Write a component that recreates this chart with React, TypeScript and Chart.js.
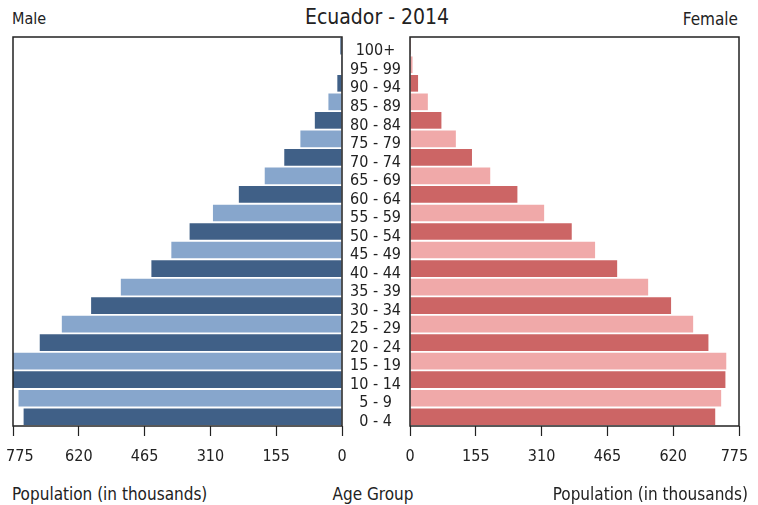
import React, { useEffect, useRef } from "react";
import { Chart, registerables } from "chart.js";

Chart.register(...registerables);

const TITLE = "Ecuador - 2014";
const AGE_GROUPS = [
  "0 - 4", "5 - 9", "10 - 14", "15 - 19", "20 - 24", "25 - 29", "30 - 34",
  "35 - 39", "40 - 44", "45 - 49", "50 - 54", "55 - 59", "60 - 64", "65 - 69",
  "70 - 74", "75 - 79", "80 - 84", "85 - 89", "90 - 94", "95 - 99", "100+",
];
const MALE = [750, 762, 777, 777, 712, 660, 591, 521, 449, 402, 359, 304, 243, 182, 136, 98, 64, 32, 11, 2, 4];
const FEMALE = [719, 733, 743, 745, 703, 667, 615, 561, 488, 436, 381, 316, 253, 189, 146, 108, 74, 42, 19, 6, 2];
const X_TICKS = [0, 155, 310, 465, 620, 775];
const X_MAX = 775;

const FONT = '"DejaVu Sans Condensed", "DejaVu Sans", sans-serif';
const TEXT = "#222";
const MALE_DARK = "#406087";
const MALE_LIGHT = "#87a6cc";
const FEMALE_DARK = "#cc6565";
const FEMALE_LIGHT = "#f0a9a9";

const boxPlugin = {
  id: "box",
  afterDraw(chart: any) {
    const { ctx, chartArea: a } = chart;
    ctx.save();
    ctx.strokeStyle = "#222";
    ctx.lineWidth = 1.5;
    ctx.strokeRect(a.left, a.top, a.right - a.left, a.bottom - a.top);
    ctx.restore();
  },
};

function xScale(reverse: boolean) {
  return {
    type: "linear",
    min: 0,
    max: X_MAX,
    reverse,
    position: "bottom",
    afterBuildTicks: (s: any) => {
      s.ticks = X_TICKS.map((v) => ({ value: v }));
    },
    afterFit: (s: any) => {
      s.height = 44;
      s.paddingLeft = 0;
      s.paddingRight = 0;
    },
    grid: { drawOnChartArea: false, drawTicks: true, tickLength: 10, tickColor: "#222", tickWidth: 1.2 },
    border: { display: false },
    ticks: {
      autoSkip: false,
      maxRotation: 0,
      padding: 11,
      color: TEXT,
      font: { family: FONT, size: 16 },
      callback: (v: any) => {
        if (v === X_MAX) return reverse ? "   " + v : v + "  ";
        return String(v);
      },
    },
  };
}

function makeConfig(values: number[], dark: string, light: string, left: boolean): any {
  const y: any = {
    type: "category",
    display: left,
    position: "right",
    reverse: true,
    offset: true,
    grid: { display: false, drawTicks: false },
    border: { display: false },
    ticks: {
      autoSkip: false,
      crossAlign: "center",
      padding: 8,
      labelOffset: 5,
      color: TEXT,
      font: { family: FONT, size: 16 },
    },
  };
  if (left) {
    y.afterFit = (s: any) => {
      s.width = 68;
    };
  }
  return {
    type: "bar",
    data: {
      labels: AGE_GROUPS,
      datasets: [
        {
          data: values,
          backgroundColor: values.map((_, i) => (i % 2 === 0 ? dark : light)),
          borderWidth: 0,
          barPercentage: 1,
          categoryPercentage: 0.9,
        },
      ],
    },
    options: {
      indexAxis: "y",
      responsive: false,
      animation: false,
      events: [],
      layout: { padding: left ? { left: 13, top: 37, right: 0, bottom: 0 } : { left: 10, top: 37, right: 19, bottom: 0 } },
      plugins: { legend: { display: false }, tooltip: { enabled: false }, title: { display: false } },
      scales: {
        x: xScale(left),
        y,
      },
    },
    plugins: [boxPlugin],
  };
}

function ChartCanvas({ config, width, height, style }: any) {
  const ref = useRef<HTMLCanvasElement | null>(null);
  useEffect(() => {
    if (!ref.current) return;
    const chart = new Chart(ref.current, config);
    return () => chart.destroy();
  }, []);
  return <canvas ref={ref} width={width} height={height} style={{ position: "absolute", display: "block", ...style }} />;
}

const txt = (extra: any): any => ({
  position: "absolute",
  whiteSpace: "nowrap",
  fontFamily: FONT,
  color: TEXT,
  ...extra,
});

export default function App() {
  return (
    <div style={{ position: "absolute", left: 0, top: 0, width: 758, height: 505, background: "#fff", overflow: "hidden" }}>
      <div style={txt({ left: 377, top: 4, transform: "translateX(-50%)", fontSize: 21, lineHeight: "26px" })}>{TITLE}</div>
      <div style={txt({ left: 12, top: 9, fontSize: 16, lineHeight: "20px" })}>Male</div>
      <div style={txt({ right: 20, top: 9, fontSize: 17, lineHeight: "20px" })}>Female</div>
      <ChartCanvas config={makeConfig(MALE, MALE_DARK, MALE_LIGHT, true)} width={410} height={470} style={{ left: 0, top: 0 }} />
      <ChartCanvas config={makeConfig(FEMALE, FEMALE_DARK, FEMALE_LIGHT, false)} width={358} height={470} style={{ left: 400, top: 0 }} />
      <div style={txt({ left: 12, top: 483, fontSize: 17, lineHeight: "22px" })}>Population (in thousands)</div>
      <div style={txt({ left: 373, top: 483, transform: "translateX(-50%)", fontSize: 17, lineHeight: "22px" })}>Age Group</div>
      <div style={txt({ right: 10, top: 483, fontSize: 17, lineHeight: "22px" })}>Population (in thousands)</div>
    </div>
  );
}
